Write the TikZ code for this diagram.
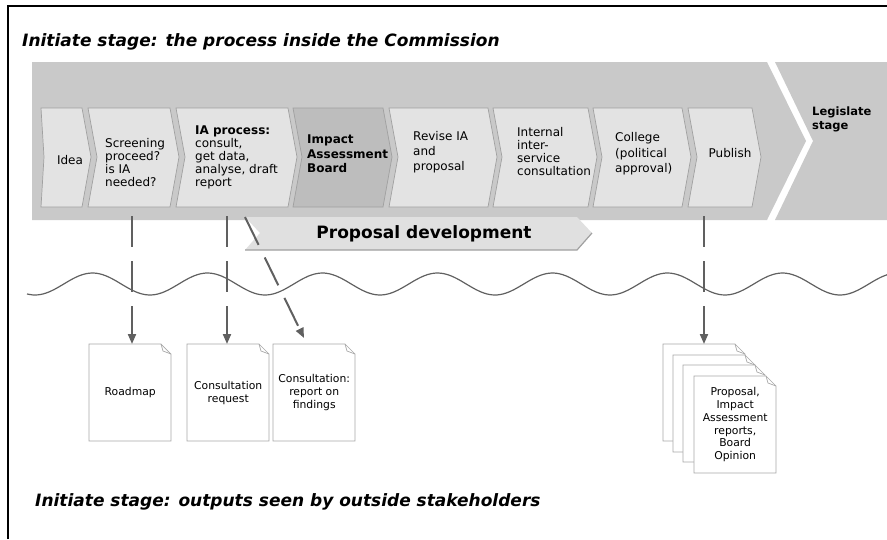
\documentclass[tikz,border=0pt]{standalone}
\usepackage{fontspec}
\setmainfont{DejaVu Sans}
\usetikzlibrary{arrows.meta}
\usetikzlibrary{calc}

\definecolor{bandgray}{HTML}{C9C9C9}
\definecolor{chevgray}{HTML}{E3E3E3}
\definecolor{boardgray}{HTML}{BDBDBD}
\definecolor{propgray}{HTML}{E0E0E0}
\definecolor{edgegray}{HTML}{A0A0A0}
\definecolor{linegray}{HTML}{606060}
\definecolor{docedge}{HTML}{A8A8A8}

\tikzset{
  chevron/.style={draw=edgegray, line width=0.7pt},
  chevtext/.style={font=\fontsize{12}{13}\selectfont, align=left, inner sep=0pt, anchor=west},
  headtext/.style={font=\fontsize{17}{20}\selectfont\bfseries\itshape, inner sep=0pt, anchor=west},
  doc/.style={minimum width=82pt, minimum height=97pt, inner sep=0pt, align=center,
    font=\fontsize{10.8}{12.8}\selectfont, anchor=north west},
  docline/.style={draw=docedge, line width=0.7pt, fill=white},
  output/.style={draw=linegray, line width=2pt, dash pattern=on 31pt off 14pt,
    -{Triangle[length=10pt, width=8pt]}},
  wave/.style={draw=linegray, line width=1.2pt},
}

% one output page: name, x, y, text
\newcommand\docpage[4]{%
  \draw[docline] (#2,#3) -- ++(72,0) -- ++(10,10) -- ++(0,87) -- ++(-82,0) -- cycle;
  \draw[docline, fill=none] (#2+72,#3) -- ++(2,7) -- ++(8,3);
  \node[doc] (#1) at (#2,#3) {#4};
}

\begin{document}
\begin{tikzpicture}[x=1pt, y=-1pt]
  \useasboundingbox (0,0) rectangle (887,539);
  \draw[line width=2pt] (8,539) -- (8,6) -- (887,6);

  \node[headtext] (intitle) at (22,42) {Initiate stage: the process inside the Commission};
  \node[headtext] (outtitle) at (35,502) {Initiate stage: outputs seen by outside stakeholders};

  % stage band
  \fill[bandgray] (32,62) -- (767,62) -- (806,141) -- (767,220) -- (32,220) -- cycle;
  \fill[bandgray] (775,62) -- (887,62) -- (887,220) -- (775,220) -- (813,141) -- cycle;
  \node[chevtext, font=\fontsize{11.5}{14}\selectfont\bfseries] (legislate) at (812,119) {Legislate\\stage};

  % steps
  \foreach \l/\r/\n/\c in {41/82/3/chevgray, 88/170/9/chevgray, 176/288/9/chevgray,
      293/383/9/boardgray, 389/488/9/chevgray, 493/588/9/chevgray,
      593/682/9/chevgray, 688/752/9/chevgray}
    \draw[chevron, fill=\c] (\l,108) -- (\r,108) -- (\r+9,157) -- (\r,207)
      -- (\l,207) -- (\l+\n,157) -- cycle;

  \node[chevtext, anchor=center] (idea) at (70,160) {Idea};
  \node[chevtext] (screening) at (105,163) {Screening\\proceed?\\is IA\\needed?};
  \node[chevtext] (iaproc) at (195,157) {\textbf{IA process:}\\consult,\\get data,\\analyse, draft\\report};
  \node[chevtext, font=\fontsize{12}{14.5}\selectfont\bfseries] (board) at (307,154) {Impact\\Assessment\\Board};
  \node[chevtext, font=\fontsize{12}{15}\selectfont] (revise) at (413,152) {Revise IA\\and\\proposal};
  \node[chevtext] (interserv) at (517,152) {Internal\\inter-\\service\\consultation};
  \node[chevtext, font=\fontsize{12}{15.5}\selectfont] (college) at (615,154) {College\\(political\\approval)};
  \node[chevtext, anchor=center] (publish) at (730,153) {Publish};

  % proposal development
  \fill[propgray] (245,217) -- (577,217) -- (592,233) -- (577,250) -- (245,250) -- (260,233) -- cycle;
  \draw[edgegray, line width=1.2pt] (245,250) -- (577,250) -- (592,233);
  \node[font=\fontsize{17}{19}\selectfont\bfseries, inner sep=0pt] (propdev) at (424,234) {Proposal development};

  % boundary
  \draw[wave] plot[domain=27:887, samples=160, smooth] (\x, {284+11*cos((\x-35)/115*360)});

  % outputs
  \docpage{roadmap}{89}{344}{Roadmap}
  \docpage{consreq}{187}{344}{Consultation\\request}
  \docpage{consrep}{273}{344}{Consultation:\\report on\\findings}
  \docpage{pubA}{663}{344}{}
  \docpage{pubB}{673}{355}{}
  \docpage{pubC}{683}{365}{}
  \docpage{pubD}{694}{376}{Proposal,\\Impact\\Assessment\\reports,\\Board\\Opinion}

  \coordinate (scr-out) at (132,216);
  \coordinate (ia-out) at (227,216);
  \coordinate (ia-diag) at (245,217);
  \coordinate (pub-out) at (704,216);
  \draw[output] (scr-out) -- (scr-out |- roadmap.north);
  \draw[output] (ia-out) -- (ia-out |- consreq.north);
  \draw[output] (ia-diag) -- ([xshift=31pt, yshift=6pt]consrep.north west);
  \draw[output] (pub-out) -- (pub-out |- pubA.north);
\end{tikzpicture}
\end{document}
